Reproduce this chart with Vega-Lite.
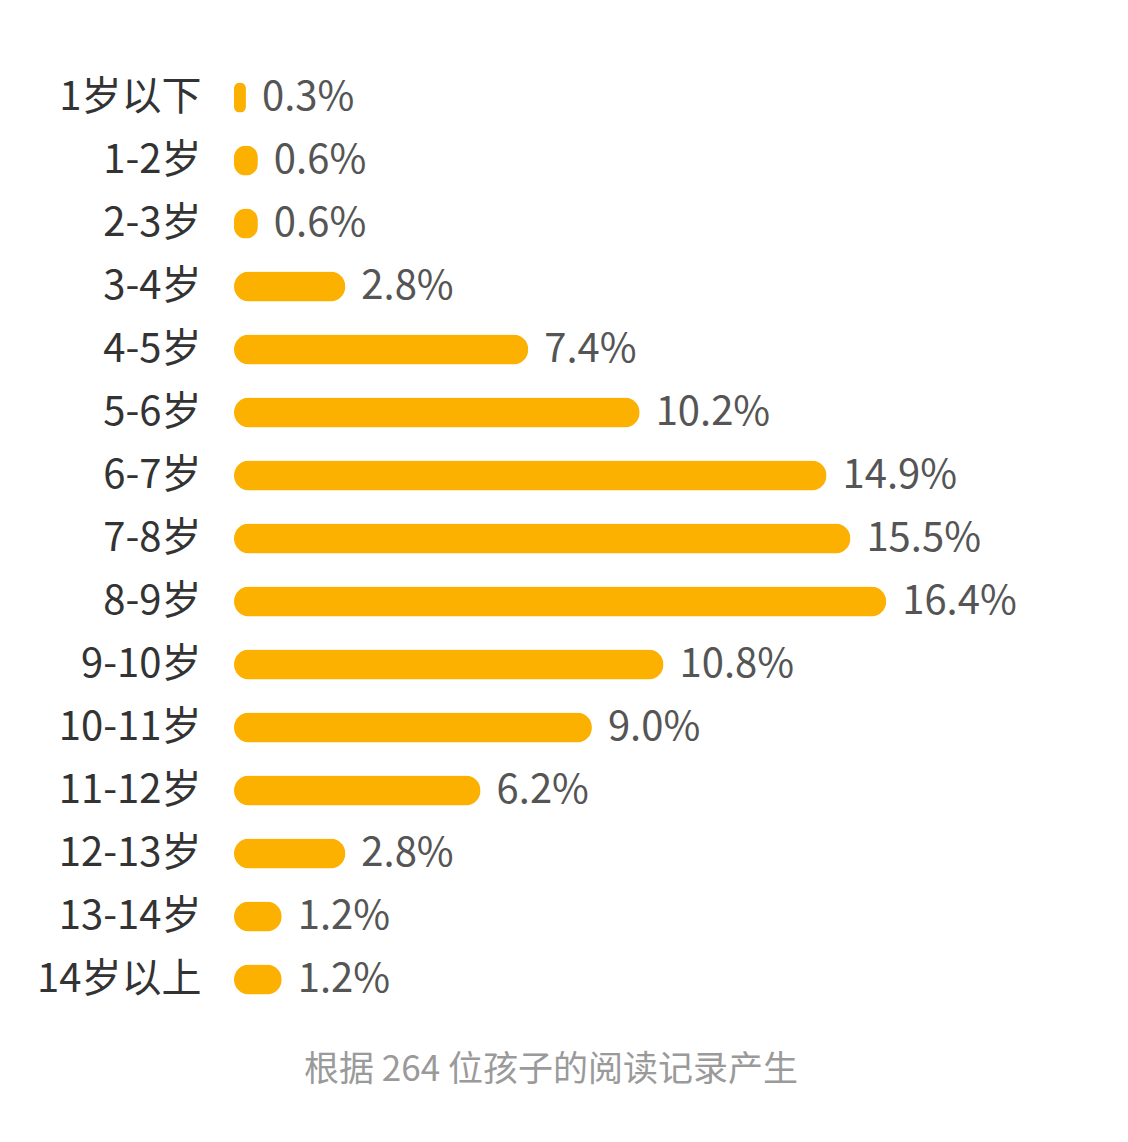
{
  "$schema": "https://vega.github.io/schema/vega-lite/v6.json",
  "autosize": {"type": "none"},
  "width": 894,
  "height": 945,
  "padding": {"left": 234, "top": 66, "right": 0, "bottom": 131},
  "background": "white",
  "title": {
    "text": "根据 264 位孩子的阅读记录产生",
    "orient": "bottom",
    "anchor": "middle",
    "frame": "group",
    "dx": -130,
    "offset": 42,
    "fontSize": 35,
    "font": "Noto Sans CJK SC",
    "fontWeight": "normal",
    "color": "#9a9a9a"
  },
  "data": {
    "values": [
      {"age": "1岁以下", "share": 0.003},
      {"age": "1-2岁", "share": 0.006},
      {"age": "2-3岁", "share": 0.006},
      {"age": "3-4岁", "share": 0.028},
      {"age": "4-5岁", "share": 0.074},
      {"age": "5-6岁", "share": 0.102},
      {"age": "6-7岁", "share": 0.149},
      {"age": "7-8岁", "share": 0.155},
      {"age": "8-9岁", "share": 0.164},
      {"age": "9-10岁", "share": 0.108},
      {"age": "10-11岁", "share": 0.09},
      {"age": "11-12岁", "share": 0.062},
      {"age": "12-13岁", "share": 0.028},
      {"age": "13-14岁", "share": 0.012},
      {"age": "14岁以上", "share": 0.012}
    ]
  },
  "encoding": {
    "y": {
      "field": "age",
      "type": "nominal",
      "sort": null,
      "scale": {"paddingInner": 0.52, "paddingOuter": 0.26},
      "axis": {
        "title": null,
        "domain": false,
        "ticks": false,
        "labelPadding": 33,
        "labelFontSize": 40,
        "labelFont": "Noto Sans CJK SC",
        "labelColor": "#333333",
        "labelLimit": 300
      }
    },
    "x": {
      "field": "share",
      "type": "quantitative",
      "scale": {"domain": [0, 0.2248]},
      "axis": null
    }
  },
  "layer": [
    {
      "mark": {"type": "bar", "color": "#FCB000", "cornerRadius": 15}
    },
    {
      "mark": {
        "type": "text",
        "align": "left",
        "baseline": "middle",
        "dx": 16,
        "fontSize": 40,
        "font": "Noto Sans CJK SC",
        "color": "#555555"
      },
      "encoding": {
        "text": {"field": "share", "type": "quantitative", "format": ".1%"}
      }
    }
  ],
  "config": {
    "view": {"stroke": null}
  }
}
